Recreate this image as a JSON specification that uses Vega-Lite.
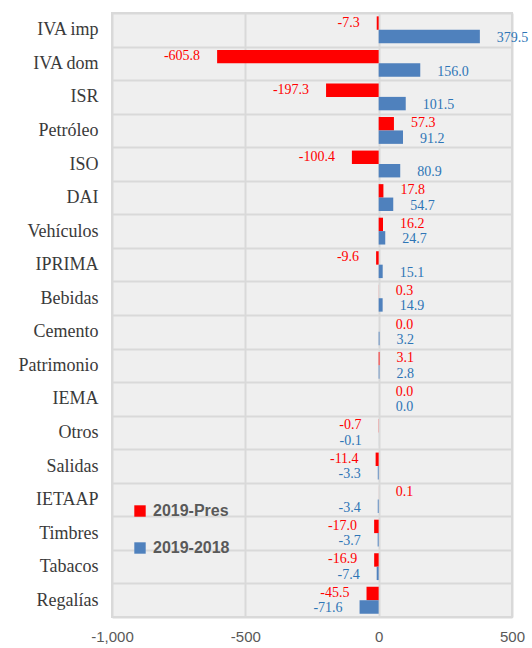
{
  "$schema": "https://vega.github.io/schema/vega-lite/v6.json",
  "width": 400,
  "height": 604,
  "autosize": {"type": "none"},
  "padding": {"left": 112, "top": 13, "right": 20, "bottom": 31},
  "background": "white",
  "config": {
    "view": {"fill": "#efefef", "stroke": "#d9d9d9", "strokeWidth": 2},
    "font": "Liberation Sans",
    "locale": {"number": {"decimal": ".", "thousands": ",", "grouping": [3], "currency": ["$", ""], "minus": "-"}}
  },
  "data": {
    "values": [
      {"cat": "IVA imp", "series": "2019-Pres", "value": -7.3},
      {"cat": "IVA imp", "series": "2019-2018", "value": 379.5},
      {"cat": "IVA dom", "series": "2019-Pres", "value": -605.8},
      {"cat": "IVA dom", "series": "2019-2018", "value": 156.0},
      {"cat": "ISR", "series": "2019-Pres", "value": -197.3},
      {"cat": "ISR", "series": "2019-2018", "value": 101.5},
      {"cat": "Petróleo", "series": "2019-Pres", "value": 57.3},
      {"cat": "Petróleo", "series": "2019-2018", "value": 91.2},
      {"cat": "ISO", "series": "2019-Pres", "value": -100.4},
      {"cat": "ISO", "series": "2019-2018", "value": 80.9},
      {"cat": "DAI", "series": "2019-Pres", "value": 17.8},
      {"cat": "DAI", "series": "2019-2018", "value": 54.7},
      {"cat": "Vehículos", "series": "2019-Pres", "value": 16.2},
      {"cat": "Vehículos", "series": "2019-2018", "value": 24.7},
      {"cat": "IPRIMA", "series": "2019-Pres", "value": -9.6},
      {"cat": "IPRIMA", "series": "2019-2018", "value": 15.1},
      {"cat": "Bebidas", "series": "2019-Pres", "value": 0.3},
      {"cat": "Bebidas", "series": "2019-2018", "value": 14.9},
      {"cat": "Cemento", "series": "2019-Pres", "value": 0.0},
      {"cat": "Cemento", "series": "2019-2018", "value": 3.2},
      {"cat": "Patrimonio", "series": "2019-Pres", "value": 3.1},
      {"cat": "Patrimonio", "series": "2019-2018", "value": 2.8},
      {"cat": "IEMA", "series": "2019-Pres", "value": 0.0},
      {"cat": "IEMA", "series": "2019-2018", "value": 0.0},
      {"cat": "Otros", "series": "2019-Pres", "value": -0.7},
      {"cat": "Otros", "series": "2019-2018", "value": -0.1},
      {"cat": "Salidas", "series": "2019-Pres", "value": -11.4},
      {"cat": "Salidas", "series": "2019-2018", "value": -3.3},
      {"cat": "IETAAP", "series": "2019-Pres", "value": 0.1},
      {"cat": "IETAAP", "series": "2019-2018", "value": -3.4},
      {"cat": "Timbres", "series": "2019-Pres", "value": -17.0},
      {"cat": "Timbres", "series": "2019-2018", "value": -3.7},
      {"cat": "Tabacos", "series": "2019-Pres", "value": -16.9},
      {"cat": "Tabacos", "series": "2019-2018", "value": -7.4},
      {"cat": "Regalías", "series": "2019-Pres", "value": -45.5},
      {"cat": "Regalías", "series": "2019-2018", "value": -71.6}
    ]
  },
  "encoding": {
    "y": {
      "field": "cat", "type": "nominal", "sort": null,
      "scale": {"paddingInner": 0, "paddingOuter": 0},
      "axis": {"title": null, "domain": false, "ticks": false, "grid": true, "tickBand": "extent",
               "gridColor": "#d9d9d9", "gridWidth": 2, "labelFont": "Liberation Serif", "labelFontSize": 18,
               "labelColor": "#3a3a3a", "labelPadding": 14}
    },
    "yOffset": {
      "field": "series", "type": "nominal", "sort": ["2019-Pres", "2019-2018"],
      "scale": {"paddingInner": 0, "paddingOuter": 0.25}
    },
    "x": {
      "field": "value", "type": "quantitative",
      "scale": {"domain": [-1000, 500], "nice": false},
      "axis": {"title": null, "values": [-1000, -500, 0, 500], "format": ",.0f", "grid": true, "gridColor": "#d9d9d9",
               "gridWidth": 2, "domain": false, "ticks": false, "labelFontSize": 15, "labelColor": "#595959",
               "labelPadding": 12, "labelFlush": false, "labelOverlap": false, "labelBound": false}
    }
  },
  "layer": [
    {
      "mark": {"type": "bar"},
      "encoding": {
        "color": {
          "field": "series", "type": "nominal",
          "scale": {"domain": ["2019-Pres", "2019-2018"], "range": ["#ff0000", "#4f81bd"]},
          "legend": {"title": null, "orient": "none", "legendX": 20, "legendY": 490, "symbolType": "square",
                     "symbolSize": 130, "symbolStrokeWidth": 0, "labelFont": "Liberation Sans", "labelFontWeight": "bold",
                     "labelFontSize": 16, "labelColor": "#595959", "rowPadding": 21, "labelOffset": 5, "padding": 0}
        }
      }
    },
    {
      "transform": [{"filter": "datum.value >= 0 && datum.series === '2019-Pres'"}],
      "mark": {"type": "text", "align": "left", "baseline": "middle", "dx": 17, "dy": -0.5, "font": "Liberation Serif", "fontSize": 14, "color": "#ff0000"},
      "encoding": {"text": {"field": "value", "type": "quantitative", "format": ".1f"}}
    },
    {
      "transform": [{"filter": "datum.value < 0 && datum.series === '2019-Pres'"}],
      "mark": {"type": "text", "align": "right", "baseline": "middle", "dx": -17, "dy": -0.5, "font": "Liberation Serif", "fontSize": 14, "color": "#ff0000"},
      "encoding": {"text": {"field": "value", "type": "quantitative", "format": ".1f"}}
    },
    {
      "transform": [{"filter": "datum.value >= 0 && datum.series === '2019-2018'"}],
      "mark": {"type": "text", "align": "left", "baseline": "middle", "dx": 17, "dy": 1.5, "font": "Liberation Serif", "fontSize": 14, "color": "#2e75b6"},
      "encoding": {"text": {"field": "value", "type": "quantitative", "format": ".1f"}}
    },
    {
      "transform": [{"filter": "datum.value < 0 && datum.series === '2019-2018'"}],
      "mark": {"type": "text", "align": "right", "baseline": "middle", "dx": -17, "dy": 1.5, "font": "Liberation Serif", "fontSize": 14, "color": "#2e75b6"},
      "encoding": {"text": {"field": "value", "type": "quantitative", "format": ".1f"}}
    }
  ]
}
